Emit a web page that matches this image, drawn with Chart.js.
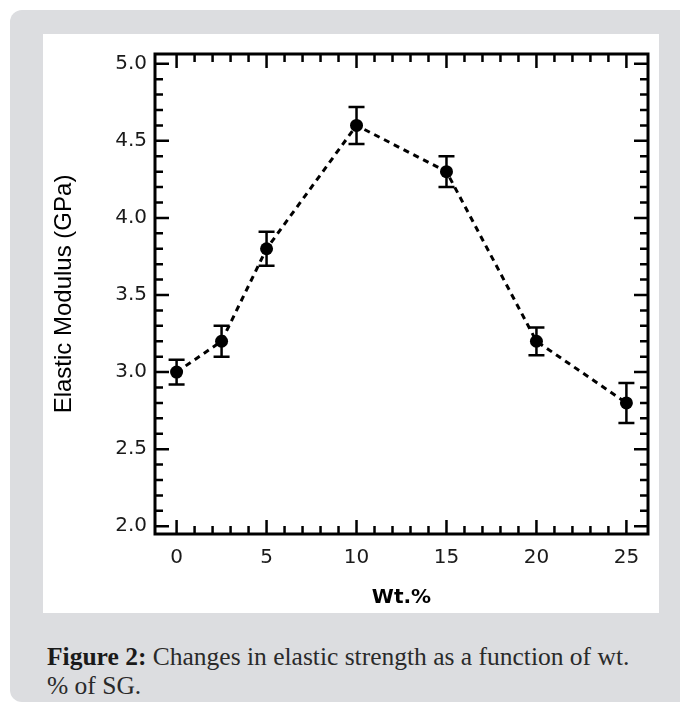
<!DOCTYPE html>
<html>
<head>
<meta charset="utf-8">
<script src="https://cdn.jsdelivr.net/npm/chart.js@4/dist/chart.umd.min.js"></script>
<style>
  html, body { margin: 0; padding: 0; background: #fff; }
  body { width: 680px; height: 704px; position: relative; overflow: hidden; }
  .panel { position: absolute; left: 10px; top: 10px; width: 700px; height: 692px; background: #dcdde0; border-radius: 12px; }
  .plot-box { position: absolute; left: 43px; top: 34px; width: 616px; height: 579px; background: #fff; }
  .caption { position: absolute; left: 47px; top: 642px; font-family: "Liberation Serif", serif; font-size: 25.5px; line-height: 29px; color: #2a2a2a; white-space: nowrap; }
  .caption b { color: #1a1a1a; }
</style>
</head>
<body>
<div class="panel"></div>
<div class="plot-box"><canvas id="chart" width="616" height="579"></canvas></div>
<div class="caption"><b>Figure 2:</b> Changes in elastic strength as a function of wt.<br>% of SG.</div>
<script>
// data
const wtPct   = [0, 2.5, 5, 10, 15, 20, 25];
const modulus = [3.0, 3.2, 3.8, 4.6, 4.3, 3.2, 2.8];
const errBar  = [0.08, 0.10, 0.11, 0.12, 0.10, 0.09, 0.13];

const xTicks  = [0, 5, 10, 15, 20, 25];
const yTicks  = [2.0, 2.5, 3.0, 3.5, 4.0, 4.5, 5.0];
const xMinor  = [0, 1, 2, 3, 4, 5, 6, 7, 8, 9, 10, 11, 12, 13, 14, 15, 16, 17, 18, 19, 20, 21, 22, 23, 24, 25];
const yMinor  = [2.0, 2.1, 2.2, 2.3, 2.4, 2.5, 2.6, 2.7, 2.8, 2.9, 3.0, 3.1, 3.2, 3.3, 3.4, 3.5, 3.6, 3.7, 3.8, 3.9,
                 4.0, 4.1, 4.2, 4.3, 4.4, 4.5, 4.6, 4.7, 4.8, 4.9, 5.0];

const tickFont = { family: 'DejaVu Sans', size: 20 };

// frame with inward ticks on all four sides
const FramePlugin = {
  id: 'frame',
  beforeDatasetsDraw(chart) {
    const { ctx, chartArea: a, scales: { x, y } } = chart;
    ctx.save();
    ctx.strokeStyle = '#000';
    ctx.lineCap = 'butt';
    ctx.lineWidth = 2.5;
    const tick = (px, len, vertical) => {
      ctx.beginPath();
      if (vertical) {
        ctx.moveTo(px, a.bottom); ctx.lineTo(px, a.bottom - len);
        ctx.moveTo(px, a.top);    ctx.lineTo(px, a.top + len);
      } else {
        ctx.moveTo(a.left, px);  ctx.lineTo(a.left + len, px);
        ctx.moveTo(a.right, px); ctx.lineTo(a.right - len, px);
      }
      ctx.stroke();
    };
    xMinor.forEach(v => tick(x.getPixelForValue(v), xTicks.includes(v) ? 14 : 8, true));
    yMinor.forEach(v => tick(y.getPixelForValue(v), yTicks.some(t => Math.abs(t - v) < 1e-6) ? 14 : 8, false));
    ctx.lineWidth = 3;
    ctx.strokeRect(a.left, a.top, a.right - a.left, a.bottom - a.top);
    ctx.restore();
  }
};

const ErrorBarPlugin = {
  id: 'errbars',
  afterDatasetsDraw(chart) {
    const { ctx, scales: { x, y } } = chart;
    ctx.save();
    ctx.strokeStyle = '#000';
    ctx.lineWidth = 2.5;
    wtPct.forEach((w, i) => {
      const px = x.getPixelForValue(w);
      const hi = y.getPixelForValue(modulus[i] + errBar[i]);
      const lo = y.getPixelForValue(modulus[i] - errBar[i]);
      ctx.beginPath();
      ctx.moveTo(px, hi); ctx.lineTo(px, lo);
      ctx.moveTo(px - 8, hi); ctx.lineTo(px + 8, hi);
      ctx.moveTo(px - 8, lo); ctx.lineTo(px + 8, lo);
      ctx.stroke();
    });
    ctx.restore();
  }
};

new Chart(document.getElementById('chart'), {
  type: 'line',
  data: {
    datasets: [{
      data: wtPct.map((w, i) => ({ x: w, y: modulus[i] })),
      borderColor: '#000', backgroundColor: '#000',
      borderWidth: 3, borderDash: [6, 5],
      pointRadius: 6.5, pointHoverRadius: 6.5, pointBorderWidth: 0,
      tension: 0,
    }]
  },
  options: {
    responsive: false, animation: false,
    layout: { padding: { top: 5, right: 11, left: 0, bottom: 0 } },
    plugins: { legend: { display: false }, tooltip: { enabled: false } },
    scales: {
      x: {
        type: 'linear', min: -1.2, max: 26.2,
        afterBuildTicks: s => { s.ticks = xTicks.map(v => ({ value: v })); },
        afterFit: s => { s.height = 79; },
        grid: { display: false, drawTicks: false }, border: { display: false },
        ticks: { font: tickFont, color: '#1a1a1a', padding: 12, maxRotation: 0 },
        title: { display: true, text: 'Wt.%', color: '#000', font: { family: 'DejaVu Sans', size: 20, weight: 'bold' }, padding: { top: 0, bottom: 3 } },
      },
      y: {
        type: 'linear', min: 1.95, max: 5.063,
        afterBuildTicks: s => { s.ticks = yTicks.map(v => ({ value: v })); },
        afterFit: s => { s.width = 112; },
        grid: { display: false, drawTicks: false }, border: { display: false },
        ticks: { font: tickFont, color: '#1a1a1a', padding: 8, callback: v => Number(v).toFixed(1) },
        title: { display: true, text: 'Elastic Modulus (GPa)', color: '#000', font: { family: 'Liberation Sans', size: 24 }, padding: { top: 7, bottom: 0 } },
      }
    }
  },
  plugins: [FramePlugin, ErrorBarPlugin],
});
</script>
</body>
</html>
